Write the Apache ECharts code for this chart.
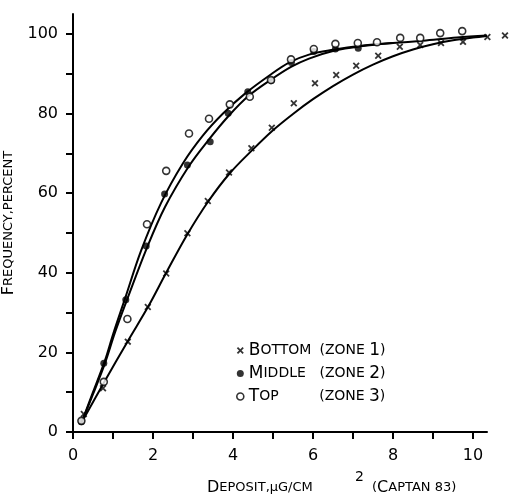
<!DOCTYPE html>
<html><head><meta charset="utf-8">
<script src="https://cdn.jsdelivr.net/npm/echarts@6/dist/echarts.min.js"></script>
<style>html,body{margin:0;padding:0;background:#fff}#c{width:512px;height:500px}</style>
</head><body><div id="c"></div>
<script>
// Scatter observations
const bottomX = [0.27,0.75,1.37,1.87,2.33,2.86,3.37,3.9,4.46,4.97,5.52,6.05,6.58,7.08,7.63,8.17,8.68,9.2,9.75,10.36,10.8];
const bottomY = [4.5,11,22.7,31.4,39.8,49.9,58,65.2,71.3,76.4,82.6,87.6,89.7,92,94.5,96.8,97.2,97.7,98,99.2,99.6];
const middleX = [0.21,0.77,1.32,1.83,2.29,2.86,3.43,3.88,4.37,4.96,5.46,6.02,6.56,7.13];
const middleY = [2.6,17.3,33.2,46.7,59.8,67.1,72.9,80.1,85.5,88.3,92.8,95.6,96.2,96.4];
const topX = [0.21,0.77,1.36,1.85,2.33,2.9,3.4,3.92,4.42,4.95,5.45,6.02,6.56,7.12,7.6,8.18,8.68,9.18,9.73];
const topY = [2.8,12.6,28.4,52.2,65.6,75,78.7,82.3,84.2,88.4,93.6,96.2,97.5,97.7,97.9,99,99,100.2,100.7];

// Fitted curves
const curveTopX = [0.2,0.5,0.8,1.0,1.3,1.7,2.2,2.75,3.25,3.75,4.3,4.9,5.4,5.9,6.5,7.2,8.0,8.75,9.6,10.35];
const curveTopY = [2,10,18,24.5,33.5,45.5,57.5,67.5,74.5,80,85,89.5,92.8,94.8,96,97,97.7,98.3,99.1,99.6];
const curveMidX = [0.2,0.5,0.8,1.05,1.35,1.85,2.3,2.9,3.4,3.9,4.4,4.95,5.45,5.9,6.5,7.2,8.0];
const curveMidY = [2,9.5,17.3,25,33.2,46.3,56.5,66.8,73.5,79.5,84.5,88.5,91.7,93.8,95.7,96.9,97.7];
const curveBotX = [0.25,0.75,1.38,1.88,2.33,2.85,3.38,3.92,4.5,5.0,5.5,6.0,6.5,7.0,7.5,8.0,8.5,9.0,9.5,10.0,10.35];
const curveBotY = [3,12,23,31.5,40,49.5,57.9,65,71,75.8,79.9,83.6,86.9,89.8,92.3,94.4,96.1,97.4,98.4,99.1,99.5];

// Axis ticks / labels
const xTicks = [0,1,2,3,4,5,6,7,8,9,10];
const xLabels = [0,2,4,6,8,10];
const yTicks = [0,10,20,30,40,50,60,70,80,90,100];
const yLabels = [0,20,40,60,80,100];

const zip = (a, b) => a.map((v, i) => [v, b[i]]);
const crossPath = 'path://M0,1.8L1.8,0L5,3.2L8.2,0L10,1.8L6.8,5L10,8.2L8.2,10L5,6.8L1.8,10L0,8.2L3.2,5Z';
const FONT = 'DejaVu Sans';

const chart = echarts.init(document.getElementById('c'));
const lineStyle = { color: '#000', width: 2 };
chart.setOption({
  animation: false,
  backgroundColor: '#fff',
  grid: { left: 73, right: 25, top: 14, bottom: 68, containLabel: false, outerBoundsMode: 'none' },
  xAxis: {
    type: 'value', min: 0, max: 10.35,
    axisLine: { show: true, lineStyle: { color: '#000', width: 2 } },
    axisTick: { show: true, length: 7, lineStyle: { color: '#000', width: 2 }, customValues: xTicks },
    axisLabel: { customValues: xLabels, margin: 16, color: '#000', fontFamily: FONT, fontSize: 16 },
    splitLine: { show: false }
  },
  yAxis: {
    type: 'value', min: 0, max: 105,
    axisLine: { show: true, lineStyle: { color: '#000', width: 2 } },
    axisTick: { show: true, length: 7, lineStyle: { color: '#000', width: 2 }, customValues: yTicks },
    axisLabel: { customValues: yLabels, margin: 15, color: '#000', fontFamily: FONT, fontSize: 16 },
    splitLine: { show: false },
    name: '{c|F}{s|REQUENCY,PERCENT}',
    nameLocation: 'middle', nameGap: 52, nameRotate: 90,
    nameTextStyle: {
      color: '#000',
      rich: {
        c: { fontFamily: FONT, fontSize: 16, color: '#000' },
        s: { fontFamily: FONT, fontSize: 13, color: '#000' }
      }
    }
  },
  legend: {
    orient: 'vertical', left: 231, top: 337, itemGap: 6,
    itemWidth: 7, itemHeight: 7,
    data: [
      { name: 'Bottom', icon: crossPath, itemStyle: { color: '#000' } },
      { name: 'Middle', icon: 'circle', itemStyle: { color: '#000' } },
      { name: 'Top', icon: 'circle', itemStyle: { color: '#fff', borderColor: '#000', borderWidth: 1.6 } }
    ],
    formatter: function (n) {
      if (n === 'Bottom') return '{c|B}{w1|OTTOM}{s|(ZONE }{c|1}{s|)}';
      if (n === 'Middle') return '{c|M}{w2|IDDLE}{s|(ZONE }{c|2}{s|)}';
      return '{c|T}{w3|OP}{s|(ZONE }{c|3}{s|)}';
    },
    textStyle: {
      color: '#000',
      rich: {
        c: { fontFamily: FONT, fontSize: 17, color: '#000', lineHeight: 18 },
        s: { fontFamily: FONT, fontSize: 14, color: '#000', lineHeight: 18 },
        w1: { fontFamily: FONT, fontSize: 14, color: '#000', width: 59, lineHeight: 18 },
        w2: { fontFamily: FONT, fontSize: 14, color: '#000', width: 56, lineHeight: 18 },
        w3: { fontFamily: FONT, fontSize: 14, color: '#000', width: 60, lineHeight: 18 }
      }
    }
  },
  graphic: [
    {
      type: 'text', left: 207, top: 480,
      style: {
        text: '{c|D}{s|EPOSIT,µG/CM}',
        rich: {
          c: { fontFamily: FONT, fontSize: 16, fill: '#000' },
          s: { fontFamily: FONT, fontSize: 13, fill: '#000' }
        }
      }
    },
    {
      type: 'text', left: 355, top: 470,
      style: { text: '2', fontFamily: FONT, fontSize: 14, fill: '#000' }
    },
    {
      type: 'text', left: 372, top: 480,
      style: {
        text: '{s|(}{c|C}{s|APTAN 83)}',
        rich: {
          c: { fontFamily: FONT, fontSize: 16, fill: '#000' },
          s: { fontFamily: FONT, fontSize: 13, fill: '#000' }
        }
      }
    }
  ],
  series: [
    { name: 'curveTop', type: 'line', data: zip(curveTopX, curveTopY), smooth: 0.35, symbol: 'none', lineStyle, silent: true, z: 2 },
    { name: 'curveMid', type: 'line', data: zip(curveMidX, curveMidY), smooth: 0.35, symbol: 'none', lineStyle, silent: true, z: 2 },
    { name: 'curveBot', type: 'line', data: zip(curveBotX, curveBotY), smooth: 0.35, symbol: 'none', lineStyle, silent: true, z: 2 },
    { name: 'Bottom', type: 'scatter', data: zip(bottomX, bottomY), symbol: crossPath, symbolSize: 7, itemStyle: { color: '#000' }, clip: false, z: 3 },
    { name: 'Middle', type: 'scatter', data: zip(middleX, middleY), symbol: 'circle', symbolSize: 7, itemStyle: { color: '#000' }, clip: false, z: 3 },
    { name: 'Top', type: 'scatter', data: zip(topX, topY), symbol: 'circle', symbolSize: 7, itemStyle: { color: '#fff', borderColor: '#000', borderWidth: 1.6 }, clip: false, z: 4 }
  ]
});
</script>
</body></html>
